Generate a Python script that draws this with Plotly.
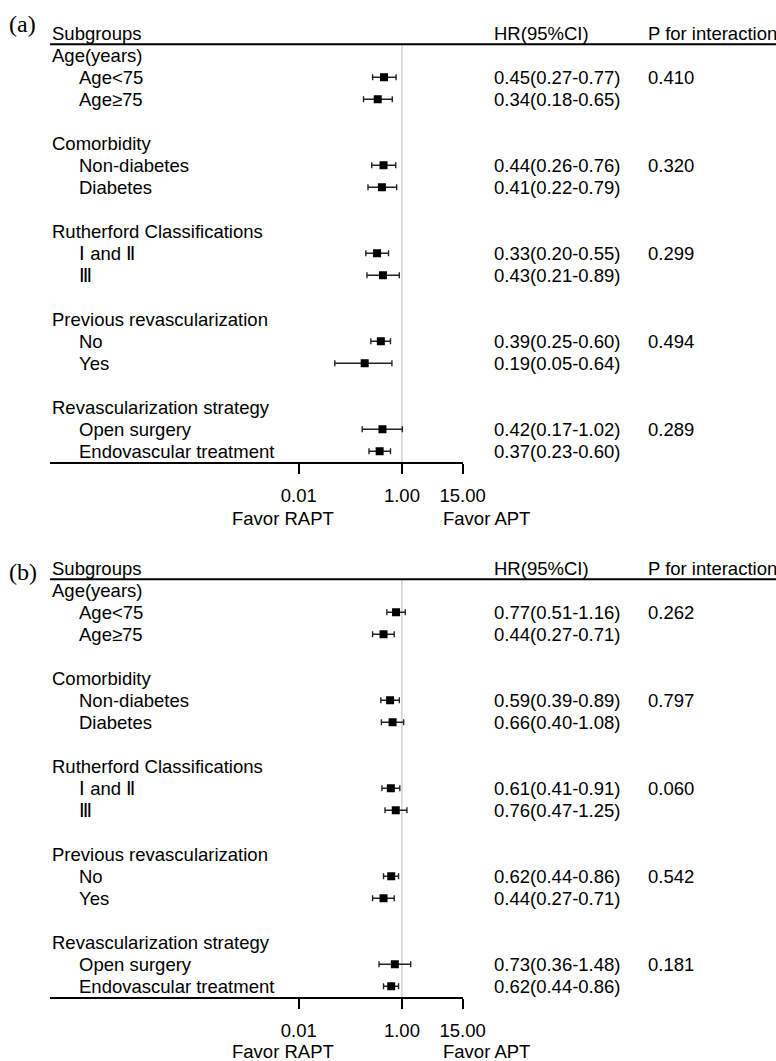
import math
import plotly.graph_objects as go

# ---------------- data ----------------
group_labels = ["Age(years)", "Comorbidity", "Rutherford Classifications",
                "Previous revascularization", "Revascularization strategy"]
sub_labels = ["Age<75", "Age≥75", "Non-diabetes", "Diabetes", "Ⅰ and Ⅱ", "Ⅲ",
              "No", "Yes", "Open surgery", "Endovascular treatment"]

hr_a = [0.45, 0.34, 0.44, 0.41, 0.33, 0.43, 0.39, 0.19, 0.42, 0.37]
lo_a = [0.27, 0.18, 0.26, 0.22, 0.20, 0.21, 0.25, 0.05, 0.17, 0.23]
hi_a = [0.77, 0.65, 0.76, 0.79, 0.55, 0.89, 0.60, 0.64, 1.02, 0.60]
p_a = ["0.410", "0.320", "0.299", "0.494", "0.289"]

hr_b = [0.77, 0.44, 0.59, 0.66, 0.61, 0.76, 0.62, 0.44, 0.73, 0.62]
lo_b = [0.51, 0.27, 0.39, 0.40, 0.41, 0.47, 0.44, 0.27, 0.36, 0.44]
hi_b = [1.16, 0.71, 0.89, 1.08, 0.91, 1.25, 0.86, 0.71, 1.48, 0.86]
p_b = ["0.262", "0.797", "0.060", "0.542", "0.181"]

header_labels = ["Subgroups", "HR(95%CI)", "P for interaction"]
tick_vals = [0.01, 1, 15]
tick_text = ["0.01", "1.00", "15.00"]
panel_tags = ["(a)", "(b)"]
favor_labels = ["Favor RAPT", "Favor APT"]

# ---------------- layout constants (picture pixels) ----------------
PIC_W = 776          # picture width the layout is designed in
W, H = 800, 1061     # css size (picture is captured 800 wide -> 776)
FONT = "Liberation Sans, Arial, sans-serif"
FS = 18.5
x_left = 50
x_right = 462
x_sub = 77
x_hr = 491
x_p = 645
panel_top = [44.3, 579.3]
panel_bot = [462.3, 997.3]
header_y = [33.3, 568.3]
tag_y = [23.7, 571.5]
favor_y = [518, 1051]

def px(x):
    return x / PIC_W

def py(y):
    return 1 - y / H

fig = go.Figure()
annotations = []
shapes = []

panels = [(hr_a, lo_a, hi_a, p_a), (hr_b, lo_b, hi_b, p_b)]
for i, (hr, lo, hi, pv) in enumerate(panels):
    xa = "x" if i == 0 else "x2"
    ya = "y" if i == 0 else "y2"
    rows = []
    for k in range(len(group_labels)):
        rows += [4 * k + 1, 4 * k + 2]
    fig.add_trace(go.Scatter(
        x=hr, y=rows, mode="markers",
        marker=dict(symbol="square", size=8, color="black"),
        error_x=dict(type="data", symmetric=False,
                     array=[h - m for h, m in zip(hi, hr)],
                     arrayminus=[m - l for m, l in zip(hr, lo)],
                     color="#222222", thickness=1.4, width=3),
        xaxis=xa, yaxis=ya, showlegend=False, hoverinfo="skip"))

    def ann(text, x, y, xanchor="left", yref=ya, size=FS, family=FONT):
        annotations.append(dict(text=text, x=x, y=y, xref="paper", yref=yref,
                                xanchor=xanchor, yanchor="middle", showarrow=False,
                                font=dict(family=family, size=size, color="black")))

    # headers
    for lab, xx in zip(header_labels, [x_left, x_hr, x_p]):
        ann(lab, px(xx), py(header_y[i]), yref="paper")
    for k, g in enumerate(group_labels):
        ann(g, px(x_left), 4 * k)
        ann(pv[k], px(x_p), 4 * k + 1)
    for j, s in enumerate(sub_labels):
        r = rows[j]
        ann(s, px(x_sub), r)
        ann(f"{hr[j]:.2f}({lo[j]:.2f}-{hi[j]:.2f})", px(x_hr), r)

    # panel tag and favor labels
    ann(panel_tags[i], px(7), py(tag_y[i]), yref="paper", size=24,
        family="Liberation Serif, Times New Roman, serif")
    ann(favor_labels[0], px(283), py(favor_y[i]), xanchor="center", yref="paper")
    ann(favor_labels[1], px(440), py(favor_y[i]), yref="paper")

    # header line and reference line
    shapes.append(dict(type="line", xref="paper", yref=f"{ya} domain",
                       x0=px(x_left), x1=1, y0=1, y1=1,
                       line=dict(color="black", width=2)))
    shapes.append(dict(type="line", xref=xa, yref=f"{ya} domain",
                       x0=1, x1=1, y0=0, y1=1, layer="below",
                       line=dict(color="#c4c4c4", width=1.2)))

xaxis_common = dict(
    type="log", range=[-6.82, math.log10(15)],
    domain=[px(x_left), px(x_right)],
    showline=True, linecolor="black", linewidth=2,
    ticks="outside", ticklen=10, tickwidth=1.5, tickcolor="black",
    tickvals=tick_vals, ticktext=tick_text,
    tickfont=dict(family=FONT, size=FS, color="black"),
    ticklabelstandoff=5,
    showgrid=False, zeroline=False, fixedrange=True)
yaxis_common = dict(range=[18.5, -0.5], showgrid=False, zeroline=False,
                    showticklabels=False, showline=False, ticks="", fixedrange=True)

fig.update_layout(
    width=W, height=H, autosize=False,
    margin=dict(l=0, r=0, t=0, b=0),
    paper_bgcolor="white", plot_bgcolor="white",
    xaxis=dict(**xaxis_common, anchor="y"),
    yaxis=dict(**yaxis_common, anchor="x", domain=[py(panel_bot[0]), py(panel_top[0])]),
    xaxis2=dict(**xaxis_common, anchor="y2"),
    yaxis2=dict(**yaxis_common, anchor="x2", domain=[py(panel_bot[1]), py(panel_top[1])]),
    annotations=annotations, shapes=shapes,
    font=dict(family=FONT, size=FS, color="black"),
)

fig.write_html("out.html",
               config={"displayModeBar": False, "responsive": False},
               post_script="document.body.style.margin='0';document.body.style.overflow='hidden';")
